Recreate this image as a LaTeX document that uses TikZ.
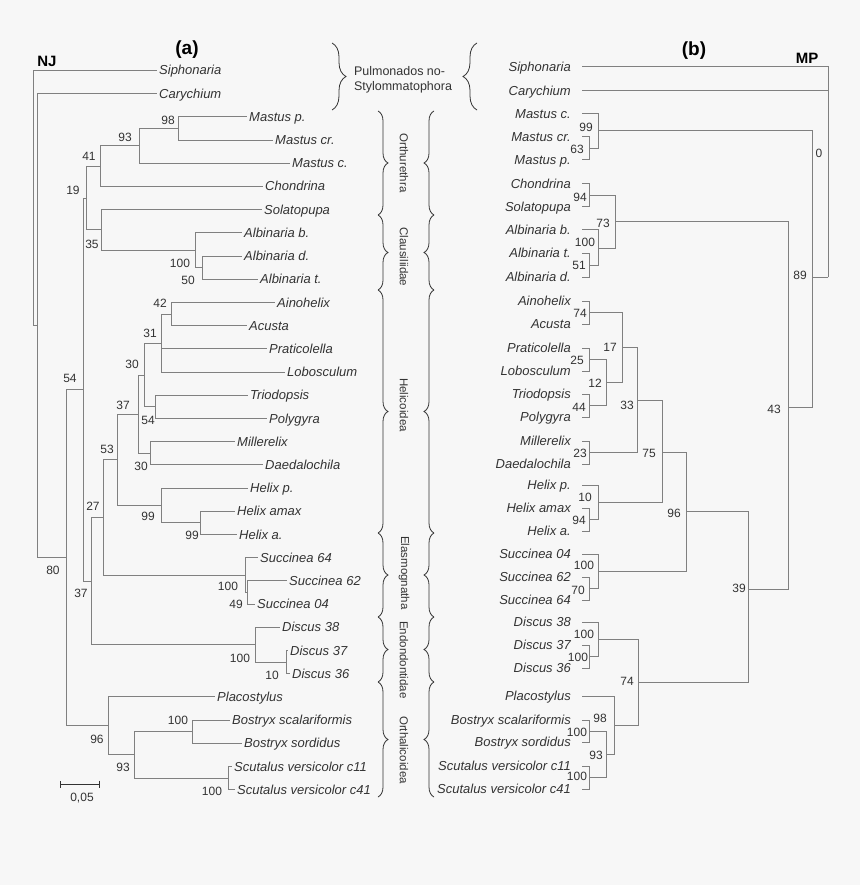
\documentclass[tikz,border=0pt]{standalone}
\usepackage{fontspec}
\setmainfont{Liberation Sans}
\usetikzlibrary{decorations.pathreplacing,arrows.meta}
\definecolor{bggray}{HTML}{F7F7F7}
\definecolor{linegray}{HTML}{808080}
\definecolor{textgray}{HTML}{333333}

\begin{document}
\begin{tikzpicture}[x=1pt,y=-1pt,
    branch/.style={draw=linegray,line width=1pt},
    leafa/.style={anchor=west,inner sep=2pt,text=textgray,
      font=\fontsize{13}{15}\selectfont\itshape,text height=12pt,text depth=3pt},
    leafb/.style={leafa,anchor=east,inner sep=1pt},
    boot/.style={inner sep=0pt,text=textgray,font=\fontsize{12}{14}\selectfont},
    clade/.style={rotate=-90,inner sep=0pt,text=textgray,font=\fontsize{11.5}{13}\selectfont},
    title/.style={inner sep=0pt,text=black,font=\bfseries},
    bracel/.style={draw=textgray,line width=0.8pt,decorate,decoration={brace,amplitude=10pt}}]
    \fill[bggray] (0,0) rectangle (860,885);
    \useasboundingbox (0,0) rectangle (860,885);

    % (a) NJ tree
    \node[title,font=\fontsize{19}{21}\selectfont\bfseries] (ta) at (187,50) {(a)};
    \node[title,font=\fontsize{15}{17}\selectfont\bfseries] (nj) at (47,61) {NJ};
    \foreach \n/\i/\x/\t in {siph/0/157/Siphonaria, cary/1/157/Carychium,
      mastp/2/247/Mastus p., mastcr/3/273/Mastus cr., mastc/4/290/Mastus c.,
      chon/5/263/Chondrina, solat/6/262/Solatopupa, albb/7/242/Albinaria b.,
      albd/8/242/Albinaria d., albt/9/258/Albinaria t., aino/10/275/Ainohelix,
      acus/11/247/Acusta, prat/12/267/Praticolella, lobo/13/285/Lobosculum,
      trio/14/248/Triodopsis, poly/15/267/Polygyra, mill/16/235/Millerelix,
      daed/17/263/Daedalochila, help/18/248/Helix p., helam/19/235/Helix amax,
      hela/20/237/Helix a., s64/21/258/Succinea 64, s62/22/287/Succinea 62,
      s04/23/255/Succinea 04, d38/24/280/Discus 38, d37/25/288/Discus 37,
      d36/26/290/Discus 36, plac/27/215/Placostylus, bsca/28/230/Bostryx scalariformis,
      bsor/29/242/Bostryx sordidus, sc11/30/232/Scutalus versicolor c11,
      sc41/31/235/Scutalus versicolor c41}
    {
      \node[leafa] (a-\n) at (\x,70.5+23.2*\i) {\t};
    }
    \coordinate (aroot) at (33,198.1);
    \coordinate (aA) at (37,325.7);
    \foreach \n/\x/\y/\lx/\ly/\v in {a80/66/557.8/53/570/80, a54/83/389.6/70/378/54,
      a19/86/198.1/73/190/19, a41/100/166.2/89/156/41, a93/139/145.9/125/137/93,
      a98/178/128.5/168/120/98, a35/101/230/92/244/35, aalb/195/250.3/180/263/100,
      a50/202/267.7/188/280/50, a37l/91/581.1/81/593/37, a27/103/517.5/93/506/27,
      a53/117/459.9/107/449/53, a37u/138/414.2/123/405/37, a30u/144/375/132/364/30,
      a31/161/343.1/150/333/31, a42/171/314.1/160/303/42, atrio/155/406.9/148/420/54,
      amill/150/453.3/141/466/30, ahel/161/505.5/148/516/99, aha/200/522.9/192/535/99,
      asucc/245/575.1/228/586/100, a49/247/592.5/236/604/49, adisc/255/644.7/240/658/100,
      a10/286/662.1/272/675/10, a96/108/725.9/97/739/96, a93b/134/754.9/123/767/93,
      abos/192/731.7/178/720/100, ascu/228/778.1/212/791/100}
    {
      \coordinate (\n) at (\x,\y);
      \node[boot] (\n-l) at (\lx,\ly) {\v};
    }
    \foreach \p/\c in {aroot/a-siph, aroot/aA, aA/a-cary, aA/a80, a80/a54, a80/a96,
      a54/a19, a54/a37l, a19/a41, a19/a35, a41/a93, a41/a-chon, a93/a98, a93/a-mastc,
      a98/a-mastp, a98/a-mastcr, a35/a-solat, a35/aalb, aalb/a-albb, aalb/a50,
      a50/a-albd, a50/a-albt, a37l/a27, a37l/adisc, a27/a53, a27/asucc, a53/a37u,
      a53/ahel, a37u/a30u, a37u/amill, a30u/a31, a30u/atrio, a31/a42, a31/a-prat,
      a31/a-lobo, a42/a-aino, a42/a-acus, atrio/a-trio, atrio/a-poly, amill/a-mill,
      amill/a-daed, ahel/a-help, ahel/aha, aha/a-helam, aha/a-hela, asucc/a-s64,
      asucc/a49, a49/a-s62, a49/a-s04, adisc/a-d38, adisc/a10, a10/a-d37, a10/a-d36,
      a96/a-plac, a96/a93b, a93b/abos, a93b/ascu, abos/a-bsca, abos/a-bsor,
      ascu/a-sc11, ascu/a-sc41}
    {
      \draw[branch] (\p) |- (\c);
    }
    \draw[draw=textgray,line width=0.8pt,{Bar[width=7pt]}-{Bar[width=7pt]}] (60,784) -- (100,784);
    \node[boot] (scale) at (82,798) {0,05};

    % braces and groups
    \draw[bracel,decoration={brace,amplitude=14pt}] (332,43) -- (332,110);
    \draw[bracel,decoration={brace,amplitude=14pt}] (477,110) -- (477,43);
    \node[boot,align=left,font=\fontsize{12.5}{15}\selectfont] (pulm) at (403,80)
      {Pulmonados no-\\Stylommatophora};
    \foreach \ya/\yb in {111/215, 215/290, 290/533, 533/617, 617/682, 682/797}
    {
      \draw[bracel] (378,\ya) -- (378,\yb);
      \draw[bracel] (434,\yb) -- (434,\ya);
    }
    \node[clade] (orth) at (404,163) {Orthurethra};
    \node[clade] (claus) at (404,257) {Clausiliidae};
    \node[clade] (helic) at (404,405) {Helicoidea};
    \node[clade] (elasm) at (404,573) {Elasmognatha};
    \node[clade] (endo) at (404,660) {Endondontidae};
    \node[clade] (orthal) at (404,750) {Orthalicoidea};

    % (b) MP tree
    \node[title,font=\fontsize{19}{21}\selectfont\bfseries] (tb) at (694,51) {(b)};
    \node[title,font=\fontsize{15}{17}\selectfont\bfseries] (mp) at (807,58) {MP};
    \foreach \n/\y/\t in {siph/67/Siphonaria, cary/91/Carychium, mastc/114/Mastus c.,
      mastcr/137/Mastus cr., mastp/160/Mastus p., chon/184/Chondrina,
      solat/207/Solatopupa, albb/230/Albinaria b., albt/253/Albinaria t.,
      albd/277/Albinaria d., aino/301/Ainohelix, acus/324/Acusta,
      prat/348/Praticolella, lobo/371/Lobosculum, trio/394/Triodopsis,
      poly/417/Polygyra, mill/441/Millerelix, daed/464/Daedalochila,
      help/485/Helix p., helam/508/Helix amax, hela/531/Helix a.,
      s04/554/Succinea 04, s62/577/Succinea 62, s64/600/Succinea 64,
      d38/622/Discus 38, d37/645/Discus 37, d36/668/Discus 36,
      plac/696/Placostylus, bsca/720/Bostryx scalariformis,
      bsor/742/Bostryx sordidus, sc11/766/Scutalus versicolor c11,
      sc41/789/Scutalus versicolor c41}
    {
      \node[leafb] (b-\n) at (572,\y) {\t};
    }
    \coordinate (broot) at (828,277);
    \node[boot] (b0) at (819,153) {0};
    \foreach \n/\x/\y/\lx/\ly/\v in {b89/812/277/800/275/89, b43/788/407/774/409/43,
      bmast/598/131/586/127/99, b63/589/148.5/577/149/63, b73/615/222/603/223/73,
      b94c/589/195.5/580/197/94, balb/598/248/585/242/100, b51/589/265/579/265/51,
      b39/748/589/739/588/39, b96/686/511/674/513/96, b75/662/452/649/453/75,
      b33/637/400/627/405/33, b17/622/347/610/347/17, b74a/589/312.5/580/313/74,
      b12/606/382/595/383/12, b25/589/359.5/577/360/25, b44/589/405.5/579/407/44,
      b23/589/452.5/580/453/23, bhel/598/502/585/497/10, b94h/589/519.5/579/520/94,
      bsucc/598/571/584/565/100, b70/589/588.5/578/590/70, b74/638/682/627/681/74,
      bdisc/598/639.5/584/634/100, b100d/589/656.5/578/657/100, b98/614/725/600/718/98,
      b93/606/754/596/755/93, bbos/589/731/577/732/100, bscu/589/777.5/577/776/100}
    {
      \coordinate (\n) at (\x,\y);
      \node[boot] (\n-l) at (\lx,\ly) {\v};
    }
    \foreach \p/\c in {broot/b89, b89/bmast, b89/b43, b43/b73, b43/b39, b73/b94c,
      b73/balb, balb/b51, bmast/b63, b39/b96, b39/b74, b96/b75, b96/bsucc, b75/b33,
      b75/bhel, b33/b17, b33/b23, b17/b74a, b17/b12, b12/b25, b12/b44, bhel/b94h,
      bsucc/b70, b74/bdisc, b74/b98, bdisc/b100d, b98/b93, b93/bbos, b93/bscu}
    {
      \draw[branch] (\p) |- (\c);
    }
    \foreach \p/\c in {broot/b-siph, broot/b-cary, bmast/b-mastc, b63/b-mastcr,
      b63/b-mastp, b94c/b-chon, b94c/b-solat, balb/b-albb, b51/b-albt, b51/b-albd,
      b74a/b-aino, b74a/b-acus, b25/b-prat, b25/b-lobo, b44/b-trio, b44/b-poly,
      b23/b-mill, b23/b-daed, bhel/b-help, b94h/b-helam, b94h/b-hela, bsucc/b-s04,
      b70/b-s62, b70/b-s64, bdisc/b-d38, b100d/b-d37, b100d/b-d36, b98/b-plac,
      bbos/b-bsca, bbos/b-bsor, bscu/b-sc11, bscu/b-sc41}
    {
      \draw[branch,shorten >=10pt] (\p) |- (\c);
    }
\end{tikzpicture}
\end{document}
